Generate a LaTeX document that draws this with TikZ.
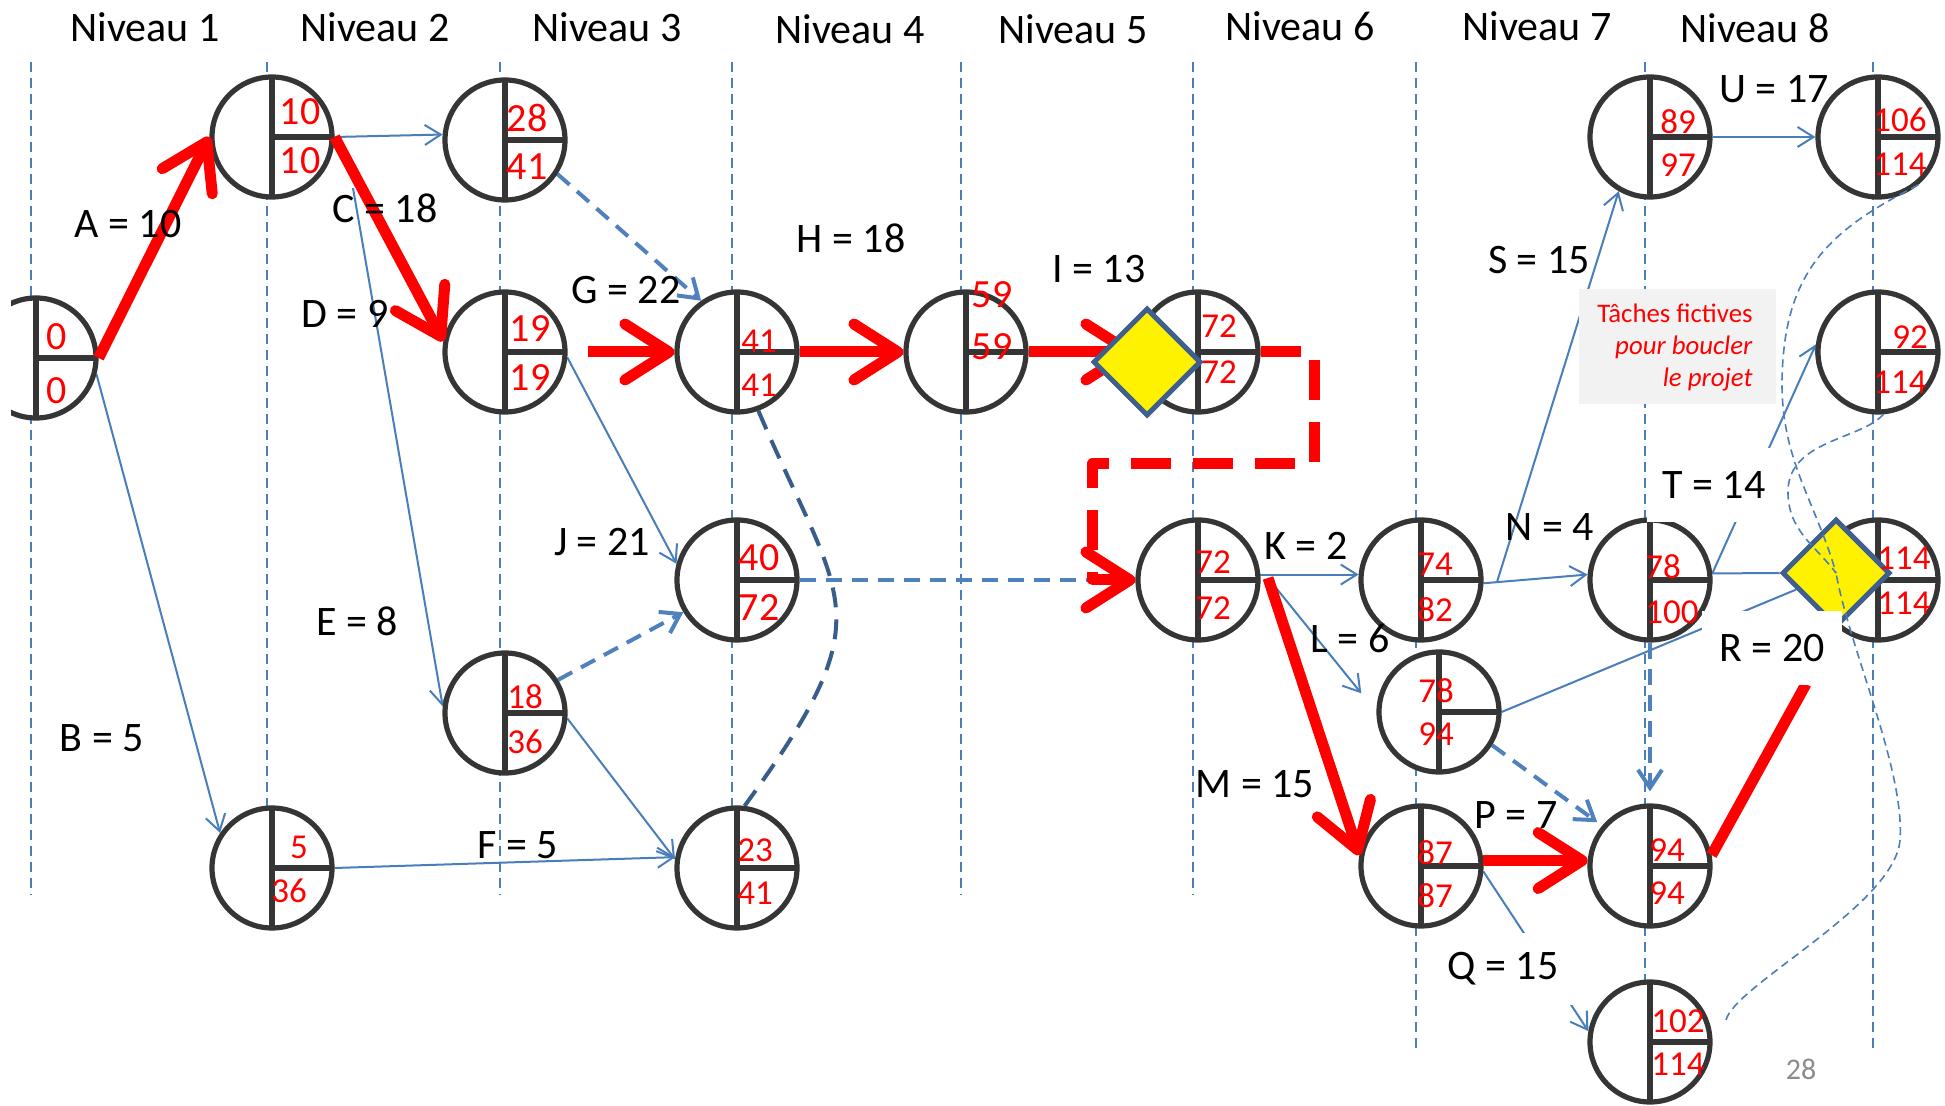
\documentclass[tikz,border=0pt]{standalone}
\usepackage{fontspec}
\setmainfont{Carlito}
\usetikzlibrary{arrows.meta,shapes.geometric}
\pgfdeclarelayer{bg}
\pgfsetlayers{bg,main}
\definecolor{lblue}{HTML}{4A7EBB}
\definecolor{fblue}{HTML}{4F81BD}
\definecolor{dblue}{HTML}{385D8A}
\definecolor{ringc}{HTML}{353535}
\definecolor{dmdline}{HTML}{3F5F8F}
\definecolor{boxgray}{HTML}{F2F2F2}
\definecolor{pgray}{HTML}{8C8C8C}
\begin{document}
\begin{tikzpicture}[x=0.5pt,y=-0.5pt,
 evt/.style={circle,draw=ringc,line width=2.6pt,fill=white,minimum size=60pt,inner sep=0pt,
   path picture={\draw[ringc,line width=2.6pt] (path picture bounding box.north) -- (path picture bounding box.south) (path picture bounding box.center) -- (path picture bounding box.east);}},
 dmd/.style={diamond,aspect=1,draw=dmdline,fill=yellow,line width=2.5pt,minimum width=54pt,minimum height=54pt,inner sep=0pt},
 big/.style={text=red,inner sep=0pt,font=\fontsize{20}{20}\selectfont},
 sml/.style={text=red,inner sep=0pt,font=\fontsize{17.5}{17.5}\selectfont},
 lab/.style={inner sep=0pt,font=\fontsize{21}{21}\selectfont},
 wlab/.style={lab,fill=white},
 colline/.style={lblue,line width=0.7pt,dash pattern=on 5pt off 3pt},
 bar/.style={lblue,line width=1pt,-{Straight Barb[length=8pt,width=10pt]}},
 plain/.style={lblue,line width=1pt},
 fict/.style={fblue,line width=2pt,dash pattern=on 8pt off 5pt,-{Straight Barb[length=9pt,width=12pt]}},
 crit/.style={red,line width=5.5pt,-{Straight Barb[length=22pt,width=28pt,round]}},
 critdash/.style={crit,line join=round,dash pattern=on 20pt off 11pt},
 dcurve/.style={dblue,line width=2pt,dash pattern=on 10pt off 6pt},
 loopd/.style={lblue,line width=0.8pt,dash pattern=on 4pt off 2.5pt}]
\useasboundingbox (0,0) rectangle (1945,1106);

% ---------- event nodes ----------
\begin{scope}
\clip (11,250) rectangle (120,470);
\node[evt] (n0) at (36,358) {};
\end{scope}
\node[evt] (n10) at (272,137) {};
\node[evt] (n28) at (505,140) {};
\node[evt] (n19) at (505,352) {};
\node[evt] (n41) at (737,352) {};
\node[evt] (n59) at (966,352) {};
\node[evt] (n72a) at (1198,352) {};
\node[evt] (n40) at (737,580) {};
\node[evt] (n18) at (505,713) {};
\node[evt] (n5) at (272,868) {};
\node[evt] (n23) at (737,868) {};
\node[evt] (n72b) at (1198,580) {};
\node[evt] (n74) at (1421,580) {};
\node[evt] (n78b) at (1439,712) {};
\node[evt] (n87) at (1421,866) {};
\node[evt] (n89) at (1650,137) {};
\node[evt] (n78c) at (1650,580) {};
\node[evt] (n94) at (1650,866) {};
\node[evt] (n102) at (1650,1042) {};
\node[evt] (n106) at (1878,137) {};
\node[evt] (n92) at (1878,352) {};
\node[evt] (n114) at (1878,580) {};
\node[dmd] (dA) at (1147,362) {};
\node[dmd] (dB) at (1836,573) {};

% ---------- background: level lines and thin edges ----------
\begin{pgfonlayer}{bg}
\foreach \x in {31,267,500,732,961,1193} \draw[colline] (\x,62) -- (\x,895);
\draw[colline] (1416,62) -- (1416,1048);
\draw[colline] (1645,62) -- (1645,1010);
\draw[colline] (1873,62) -- (1873,1048);

\draw[bar] (n0.-15) -- (n5.146);
\draw[bar] (n10.east) -- (n28.175);
\coordinate (eS) at (353,188);
\draw[bar] (eS) -- (n18.174);
\draw[bar] (n5.east) -- (n23.170);
\draw[bar] (n18.-5) -- (n23.172);
\draw[bar] (n19.-5) -- (n40.165);
\draw[fict] (n28.-33) -- (n41.125);
\draw[fict] (n18.32) -- (n40.211);
\draw[fict] (n40.east) -- (n72b.west);
\draw[dcurve] (n41.-70) .. controls +(83,195) and +(142,-195) .. (n23.83);
\coordinate (kS) at (1268,578);
\draw[bar] (n72b.5) -- (n74.175);
\draw[bar,shorten >=12pt] (kS) -- (n78b.west);
\draw[bar] (n74.-3) -- (n78c.175);
\coordinate (sS) at (1497,582);
\draw[bar] (sS) -- (n89.-120);
\draw[bar] (n89.east) -- (n106.west);
\draw[bar] (n78c.6) -- (n92.173);
\draw[plain] (n78c.6) -- (dB.west);
\draw[plain] (n78b.east) -- (dB);
\draw[bar] (n87.-5) -- (n102.170);
\draw[fict,shorten >=6pt] (n78c.south) -- (n94.north);
\draw[fict,shorten >=3pt] (n78b.-32) -- (n94.140);
\draw[crit] (n59.east) -- (n72a.west);
\end{pgfonlayer}

% ---------- fictive loop curves ----------
\draw[loopd] (n106.-50) .. controls (1830,230) and (1784,270) .. (1782,380) .. controls (1781,460) and (1815,500) .. (dB.center);
\draw[loopd] (n92.-85) .. controls (1860,440) and (1790,440) .. (1788,490) .. controls (1787,530) and (1815,545) .. (dB.center);
\coordinate (c3s) at (1726,1020);
\draw[loopd] (c3s) .. controls (1735,985) and (1895,905) .. (1900,840) .. controls (1905,770) and (1850,650) .. (dB.center);

% ---------- numbers ----------
\node[big] (t0a) at (57,337) {0};       \node[big] (t0b) at (57,391) {0};
\node[big] (t10a) at (300,112) {10};    \node[big] (t10b) at (300,161) {10};
\node[big] (t28a) at (527,118) {28};    \node[big] (t28b) at (527,167) {41};
\node[big] (t19a) at (530,329) {19};    \node[big] (t19b) at (530,378) {19};
\node[sml] (t41a) at (759,341) {41};    \node[sml] (t41b) at (759,385) {41};
\node[big] (t59a) at (992,295) {59};    \node[big] (t59b) at (992,347) {59};
\node[sml] (t72a) at (1219,326) {72};   \node[sml] (t72b) at (1219,372) {72};
\node[big] (t40a) at (759,558) {40};    \node[big] (t40b) at (759,608) {72};
\node[sml] (t18a) at (525,697) {18};    \node[sml] (t18b) at (525,742) {36};
\node[sml] (t5a) at (299,847) {5};      \node[sml] (t5b) at (289,891) {36};
\node[sml] (t23a) at (755,850) {23};    \node[sml] (t23b) at (755,893) {41};
\node[sml] (t72c) at (1213,562) {72};   \node[sml] (t72d) at (1213,608) {72};
\node[sml] (t74a) at (1435,564) {74};   \node[sml] (t74b) at (1435,610) {82};
\node[sml] (t78a) at (1436,691) {78};   \node[sml] (t78b) at (1436,734) {94};
\node[sml] (t87a) at (1435,853) {87};   \node[sml] (t87b) at (1435,896) {87};
\node[sml] (t89a) at (1678,122) {89};   \node[sml] (t89b) at (1678,165) {97};
\node[sml] (t78c) at (1663,567) {78};   \node[sml] (t100) at (1672,612) {100};
\node[sml] (t94a) at (1667,850) {94};   \node[sml] (t94b) at (1667,893) {94};
\node[sml] (t102a) at (1678,1021) {102}; \node[sml] (t102b) at (1678,1064) {114};
\node[sml] (t106a) at (1900,120) {106}; \node[sml] (t106b) at (1900,164) {114};
\node[sml] (t92a) at (1910,337) {92};   \node[sml] (t92b) at (1900,382) {114};
\node[sml] (t114a) at (1904,558) {114}; \node[sml] (t114b) at (1904,603) {114};

% ---------- critical path ----------
\draw[crit] (n0.east) -- (n10.west);
\draw[crit] (n10.east) -- (n19.170);
\draw[crit,shorten <=10pt] (n19.east) -- (n41.west);
\draw[crit] (n41.east) -- (n59.west);
\draw[critdash] (n72a.east) -- ++(54,0) -- ++(0,112) -- ++(-222,0) |- (n72b.west);
\draw[crit] (kS) -- (n87.170);
\draw[crit] (n87.5) -- (n94.175);
\coordinate (rE) at (1806,684);
\draw[red,line width=5.5pt] (n94.10) -- (rE);

% ---------- note box ----------
\node[fill=boxgray,inner sep=0pt,minimum width=98.5pt,minimum height=57.5pt] (fbox) at (1677.5,347) {};
\node[anchor=east,text=red,align=right,inner sep=0pt,font=\fontsize{13.4}{16}\selectfont] (ftxt) at (1753,347) {Tâches fictives\\\textit{pour boucler}\\\textit{le projet}};

% ---------- headers ----------
\node[lab] (h1) at (145,27) {Niveau 1};
\node[lab] (h2) at (375,27) {Niveau 2};
\node[lab] (h3) at (607,27) {Niveau 3};
\node[lab] (h4) at (850,29) {Niveau 4};
\node[lab] (h5) at (1073,29) {Niveau 5};
\node[lab] (h6) at (1300,26) {Niveau 6};
\node[lab] (h7) at (1537,26) {Niveau 7};
\node[lab] (h8) at (1755,28) {Niveau 8};

% ---------- edge labels ----------
\node[lab] (lA) at (128,224) {A = 10};
\node[lab] (lC) at (385,208) {C = 18};
\node[lab] (lD) at (345,314) {D = 9};
\node[lab] (lG) at (626,290) {G = 22};
\node[lab] (lH) at (851,238) {H = 18};
\node[lab] (lI) at (1099,269) {I = 13};
\node[lab] (lJ) at (602,542) {J = 21};
\node[lab] (lE) at (357,621) {E = 8};
\node[lab] (lB) at (102,738) {B = 5};
\node[lab] (lF) at (518,845) {F = 5};
\node[lab] (lK) at (1306,546) {K = 2};
\node[lab] (lL) at (1350,638) {L = 6};
\node[lab] (lM) at (1255,784) {M = 15};
\node[lab] (lN) at (1550,527) {N = 4};
\node[lab] (lP) at (1516,815) {P = 7};
\node[lab] (lS) at (1539,260) {S = 15};
\node[lab] (lU) at (1774,89) {U = 17};
\node[wlab,minimum width=67pt,minimum height=37pt] (lT) at (1714,485) {T = 14};
\node[wlab,minimum width=70pt,minimum height=37pt] (lR) at (1772,648) {R = 20};
\node[wlab,minimum width=72pt,minimum height=36pt] (lQ) at (1503,969) {Q = 15};
\node[text=pgray,inner sep=0pt,font=\fontsize{15}{15}\selectfont] (pg) at (1801,1069) {28};
\end{tikzpicture}
\end{document}
